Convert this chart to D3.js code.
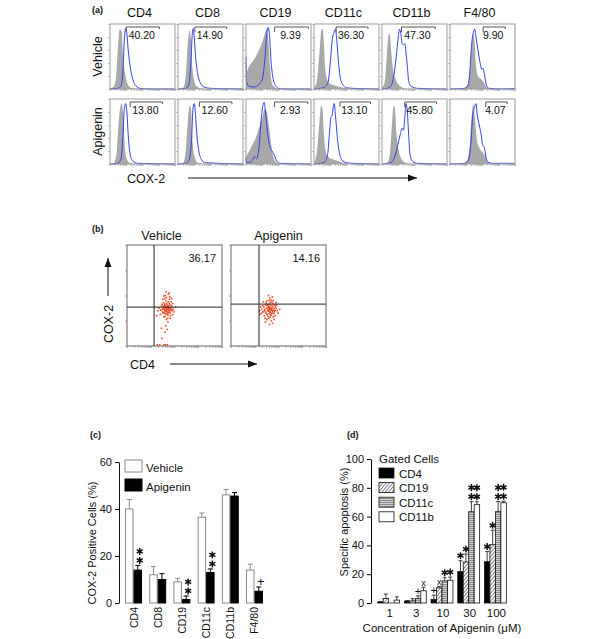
<!DOCTYPE html>
<html>
<head>
<meta charset="utf-8">
<script src="https://cdn.jsdelivr.net/npm/d3@7"></script>
<style>
body { margin: 0; background: #fff; }
svg text { font-family: "Liberation Sans", Arial, sans-serif; fill: #111; }
</style>
</head>
<body>
<svg id="fig" width="600" height="639"></svg>
<script>
// ---- panel (a): COX-2 histograms, x/y as fraction of the plot box ----
const markers = ["CD4", "CD8", "CD19", "CD11c", "CD11b", "F4/80"];
const treatments = ["Vehicle", "Apigenin"];

const gatePercent = [
    [40.20, 14.90, 9.39, 36.30, 47.30, 9.90],
    [13.80, 12.60, 2.93, 13.10, 45.80, 4.07]
];
const gateRange = [
    [[0.25, 0.76], [0.26, 0.75], [0.44, 0.96], [0.34, 0.83], [0.30, 0.82], [0.51, 0.85]],
    [[0.31, 0.81], [0.33, 0.83], [0.44, 0.95], [0.40, 0.87], [0.35, 0.84], [0.55, 0.88]]
];

const isoVehicle = [
    [[0,0.01],[0.05,0.03],[0.09,0.15],[0.12,0.6],[0.15,0.92],[0.18,0.88],[0.2,0.5],[0.23,0.25],[0.27,0.08],[0.32,0.02],[0.45,0],[1,0]],
    [[0,0],[0.08,0.02],[0.12,0.2],[0.15,0.7],[0.18,0.9],[0.2,0.75],[0.22,0.35],[0.26,0.1],[0.3,0.03],[0.4,0],[1,0]],
    [[0,0.22],[0.05,0.35],[0.1,0.42],[0.15,0.5],[0.2,0.6],[0.25,0.72],[0.29,0.85],[0.32,0.93],[0.34,0.8],[0.37,0.35],[0.4,0.08],[0.45,0.02],[0.5,0],[1,0]],
    [[0,0.02],[0.04,0.1],[0.08,0.5],[0.11,0.88],[0.13,0.93],[0.15,0.75],[0.17,0.35],[0.2,0.15],[0.25,0.08],[0.33,0.05],[0.4,0.03],[0.5,0.01],[0.6,0],[1,0]],
    [[0,0.02],[0.04,0.1],[0.07,0.45],[0.1,0.82],[0.12,0.85],[0.14,0.6],[0.17,0.3],[0.21,0.15],[0.26,0.06],[0.32,0.02],[0.4,0],[1,0]],
    [[0,0],[0.2,0.01],[0.26,0.05],[0.3,0.2],[0.33,0.6],[0.355,0.85],[0.38,0.7],[0.4,0.35],[0.43,0.2],[0.48,0.15],[0.52,0.1],[0.56,0.03],[0.62,0],[1,0]]
];
const coxVehicle = [
    [[0,0],[0.12,0.01],[0.17,0.05],[0.2,0.3],[0.22,0.75],[0.24,0.93],[0.26,0.85],[0.28,0.6],[0.31,0.35],[0.35,0.15],[0.4,0.05],[0.46,0.01],[0.6,0],[1,0]],
    [[0,0],[0.12,0.01],[0.17,0.08],[0.2,0.45],[0.22,0.85],[0.235,0.93],[0.25,0.8],[0.27,0.5],[0.3,0.25],[0.34,0.1],[0.4,0.03],[0.5,0.01],[1,0]],
    [[0,0.5],[0.01,0.1],[0.05,0.04],[0.12,0.03],[0.2,0.07],[0.25,0.15],[0.29,0.45],[0.32,0.85],[0.34,0.95],[0.36,0.85],[0.38,0.5],[0.41,0.2],[0.45,0.06],[0.5,0.01],[0.6,0],[1,0]],
    [[0,0],[0.1,0.01],[0.18,0.04],[0.22,0.12],[0.25,0.4],[0.28,0.75],[0.31,0.88],[0.33,0.92],[0.35,0.75],[0.37,0.5],[0.4,0.2],[0.44,0.07],[0.5,0.02],[0.6,0.01],[1,0]],
    [[0,0],[0.08,0.01],[0.14,0.05],[0.18,0.2],[0.22,0.5],[0.25,0.8],[0.27,0.92],[0.29,0.85],[0.31,0.7],[0.33,0.68],[0.35,0.7],[0.37,0.55],[0.39,0.35],[0.41,0.12],[0.45,0.04],[0.55,0.01],[1,0]],
    [[0,0],[0.22,0.01],[0.27,0.04],[0.3,0.2],[0.33,0.65],[0.36,0.88],[0.38,0.92],[0.4,0.8],[0.43,0.6],[0.46,0.42],[0.49,0.3],[0.51,0.32],[0.53,0.22],[0.56,0.06],[0.6,0.01],[0.8,0],[1,0.01]]
];
const isoApigenin = [
    [[0,0],[0.06,0.02],[0.1,0.15],[0.13,0.6],[0.16,0.88],[0.18,0.93],[0.2,0.8],[0.22,0.4],[0.25,0.1],[0.3,0.02],[0.4,0],[1,0]],
    [[0,0],[0.08,0.02],[0.12,0.2],[0.15,0.65],[0.18,0.9],[0.2,0.85],[0.22,0.4],[0.26,0.1],[0.3,0.02],[0.4,0],[1,0]],
    [[0,0.12],[0.05,0.2],[0.1,0.3],[0.15,0.4],[0.2,0.55],[0.25,0.72],[0.29,0.85],[0.32,0.8],[0.35,0.6],[0.38,0.35],[0.41,0.15],[0.45,0.04],[0.5,0.01],[0.6,0],[1,0]],
    [[0,0.02],[0.04,0.15],[0.08,0.6],[0.11,0.9],[0.13,0.85],[0.15,0.5],[0.17,0.25],[0.21,0.12],[0.27,0.08],[0.35,0.05],[0.45,0.02],[0.55,0],[1,0]],
    [[0,0],[0.08,0.02],[0.12,0.15],[0.15,0.55],[0.18,0.9],[0.2,0.85],[0.22,0.5],[0.25,0.25],[0.29,0.1],[0.34,0.03],[0.42,0],[1,0]],
    [[0,0],[0.2,0.01],[0.26,0.05],[0.3,0.25],[0.33,0.7],[0.36,0.92],[0.38,0.75],[0.41,0.4],[0.45,0.25],[0.5,0.18],[0.54,0.12],[0.57,0.04],[0.62,0],[1,0]]
];
const coxApigenin = [
    [[0,0],[0.12,0.01],[0.17,0.08],[0.2,0.45],[0.22,0.85],[0.24,0.93],[0.26,0.8],[0.28,0.45],[0.31,0.15],[0.35,0.05],[0.42,0.01],[1,0]],
    [[0,0],[0.12,0.01],[0.17,0.06],[0.21,0.4],[0.23,0.85],[0.25,0.93],[0.27,0.75],[0.29,0.45],[0.32,0.2],[0.36,0.07],[0.42,0.02],[1,0]],
    [[0,0.1],[0.01,0.02],[0.06,0.03],[0.1,0.06],[0.13,0.12],[0.16,0.08],[0.2,0.25],[0.23,0.65],[0.26,0.9],[0.28,0.95],[0.3,0.8],[0.33,0.5],[0.36,0.3],[0.4,0.2],[0.43,0.15],[0.47,0.05],[0.52,0.01],[1,0]],
    [[0,0],[0.1,0.01],[0.17,0.04],[0.21,0.15],[0.24,0.5],[0.26,0.72],[0.28,0.75],[0.3,0.9],[0.31,0.93],[0.33,0.75],[0.36,0.4],[0.39,0.18],[0.43,0.06],[0.5,0.02],[0.6,0.01],[1,0]],
    [[0,0],[0.1,0.01],[0.16,0.04],[0.2,0.12],[0.24,0.28],[0.28,0.45],[0.31,0.55],[0.33,0.52],[0.35,0.7],[0.37,0.93],[0.39,0.8],[0.41,0.45],[0.43,0.15],[0.47,0.04],[0.55,0.01],[1,0]],
    [[0,0],[0.22,0.01],[0.28,0.05],[0.32,0.3],[0.35,0.75],[0.38,0.88],[0.4,0.93],[0.42,0.75],[0.45,0.6],[0.48,0.45],[0.5,0.3],[0.53,0.25],[0.55,0.12],[0.58,0.03],[0.65,0.01],[1,0.01]]
];

// ---- panel (b): CD4 vs COX-2 dot plots, log10 units ----
const quadrantGate = [[1.14, 1.54], [1.18, 1.66]];
const quadrantPercent = [36.17, 14.16];
const dotsVehicle = [
    [1.68,1.43],[1.72,1.50],[1.60,1.38],[1.75,1.32],[1.65,1.55],[1.58,1.47],[1.80,1.45],[1.70,1.62],[1.62,1.28],[1.77,1.58],
    [1.55,1.52],[1.85,1.40],[1.67,1.70],[1.73,1.22],[1.50,1.35],[1.90,1.52],[1.63,1.80],[1.78,1.68],[1.57,1.60],[1.69,1.35],
    [1.82,1.30],[1.48,1.45],[1.74,1.75],[1.60,1.18],[1.88,1.60],[1.66,1.92],[1.53,1.72],[1.79,1.85],[1.71,1.10],[1.95,1.45],
    [1.45,1.58],[1.64,1.48],[1.76,1.40],[1.59,1.66],[1.83,1.50],[1.70,1.25],[1.52,1.30],[1.86,1.75],[1.67,1.38],[1.61,2.00],
    [1.74,2.05],[1.58,1.88],[1.80,1.95],[1.42,1.42],[1.98,1.35],[1.66,1.05],[1.55,1.15],[1.72,0.95],[1.63,0.80],[1.50,1.85],
    [1.35,1.50],[1.40,1.25],[1.92,1.68],[1.84,1.20],[1.69,1.55],[1.57,1.42],[1.75,1.47],[1.81,1.62],[1.64,1.62],[1.78,1.35],
    [1.62,1.52],[1.70,1.45],[1.54,1.58],[1.86,1.45],[1.73,1.58],[1.60,1.42],[1.68,1.30],[1.76,1.52],[1.58,1.32],[1.90,1.40],
    [1.65,2.15],[1.78,2.10],[1.55,1.98],[1.48,1.65],[1.30,1.40],[1.25,1.20],[1.45,0.70],[1.60,0.55],[1.70,0.65],[2.05,1.55],
    [1.38,0.05],[1.55,0.05],[1.62,0.05],[1.70,0.05],[1.28,0.05],[1.47,0.30],[1.82,1.10],[1.93,1.25],[1.88,1.88],[1.52,1.50]
];
const dotsApigenin = [
    [1.64,1.43],[1.70,1.48],[1.58,1.38],[1.75,1.35],[1.62,1.55],[1.55,1.45],[1.80,1.42],[1.68,1.60],[1.60,1.28],[1.73,1.52],
    [1.50,1.50],[1.85,1.40],[1.66,1.72],[1.70,1.22],[1.45,1.35],[1.90,1.48],[1.60,1.80],[1.76,1.68],[1.53,1.60],[1.65,1.33],
    [1.80,1.28],[1.42,1.45],[1.72,1.75],[1.56,1.18],[1.88,1.55],[1.63,1.90],[1.48,1.70],[1.58,1.10],[1.95,1.40],[1.38,1.55],
    [1.61,1.48],[1.74,1.40],[1.55,1.62],[1.82,1.50],[1.67,1.25],[1.48,1.30],[1.84,1.62],[1.64,1.36],[1.70,1.00],[1.52,1.05],
    [1.40,1.20],[1.78,1.15],[1.20,1.40],[1.22,1.25],[1.25,1.55],[1.30,1.45],[1.35,1.35],[1.33,1.60],[1.28,1.30],[1.98,1.30],
    [2.05,1.45],[1.92,1.62],[1.62,0.85],[1.45,0.95],[1.75,0.90],[1.57,1.52],[1.69,1.42],[1.77,1.58],[1.59,1.56],[1.66,1.50],
    [1.72,1.30],[1.54,1.40],[1.83,1.35],[1.60,1.65],[1.68,1.82],[1.50,1.78],[1.78,1.80],[1.86,1.20],[1.43,1.10],[1.65,1.15],
    [1.36,1.75],[1.58,2.00],[1.74,1.95],[1.90,1.72],[1.46,1.62],[1.62,1.40],[1.72,1.45],[1.52,1.25],[1.82,1.05],[1.40,1.40]
];

// ---- panel (c): % COX-2 positive cells ----
const vehicleMean = [40, 12, 9, 36.5, 46, 14];
const vehicleSem = [4, 3.5, 1.5, 1.8, 2.3, 2.5];
const apigeninMean = [14, 10, 1.5, 13, 45.5, 5];
const apigeninSem = [2, 2.5, 1.5, 1.5, 1.5, 1.8];
const apigeninSig = ["**", "", "**", "**", "", "+"];

// ---- panel (d): specific apoptosis ----
const doses = ["1", "3", "10", "30", "100"];
const gatedCells = ["CD4", "CD19", "CD11c", "CD11b"];
const apoCD4 = [0.7, 1.2, 2.5, 21.8, 28.7];
const apoCD4Err = [0.3, 0.5, 3, 7.6, 7];
const apoCD19 = [3.2, 1.5, 10.5, 28.5, 40.5];
const apoCD19Err = [3, 1.5, 1, 5.5, 10];
const apoCD11c = [0, 3, 15.3, 63.4, 63.4];
const apoCD11cErr = [0, 2, 2.3, 7, 7];
const apoCD11b = [2, 8.5, 15.8, 68.3, 69.6];
const apoCD11bErr = [2.3, 2.5, 2.2, 2, 1];
const apoSig = [
    ["", "", "", ""],
    ["", "", "+", "x"],
    ["+", "x", "*", "*"],
    ["*", "*", "**", "**"],
    ["*", "*", "**", "**"]
];

const star = d3.symbol().type(d3.symbolAsterisk).size(34);

function panelLabel(svg, txt, x, y) {
    svg.append("text").attr("x", x).attr("y", y).
    attr("font-size", 9).attr("font-weight", "bold").text(txt);
}

function arrow(svg, x1, y1, x2, y2) {
    svg.append("line").attr("x1", x1).attr("y1", y1).attr("x2", x2).attr("y2", y2).
    attr("stroke", "#111").attr("stroke-width", 1);
    const a = Math.atan2(y2 - y1, x2 - x1), L = 9, W = 3.5;
    const p = [[x2, y2],
    [x2 - L * Math.cos(a) - W * Math.sin(a), y2 - L * Math.sin(a) + W * Math.cos(a)],
    [x2 - L * Math.cos(a) + W * Math.sin(a), y2 - L * Math.sin(a) - W * Math.cos(a)]];
    svg.append("path").attr("d", "M" + p.join("L") + "Z").attr("fill", "#111");
}

function annotate(g, sig, x, top, big) {
    if (sig === "*" || sig === "**") {
        g.append("path").attr("d", star).attr("transform", `translate(${x},${top - 5})`).
        attr("stroke", "#111").attr("stroke-width", 1.5);
        if (sig === "**")
            g.append("path").attr("d", star).attr("transform", `translate(${x},${top - 14})`).
            attr("stroke", "#111").attr("stroke-width", 1.5);
    } else if (sig) {
        g.append("text").attr("x", x).attr("y", top - 1).attr("text-anchor", "middle").
        attr("font-size", sig === "+" ? big : 9).text(sig);
    }
}

function drawHistograms(svg) {
    panelLabel(svg, "(a)", 92, 13);
    const col = d3.scaleBand().domain(markers).range([110, 515]).paddingInner(0.044);
    const row = d3.scaleBand().domain(treatments).range([24, 164]).paddingInner(0.1333);
    const iso = [isoVehicle, isoApigenin], cox = [coxVehicle, coxApigenin];

    markers.forEach(m => {
        svg.append("text").attr("x", col(m) + col.bandwidth() / 2 - 3).attr("y", 17).
        attr("text-anchor", "middle").attr("font-size", 12.5).text(m);
    });
    treatments.forEach(t => {
        svg.append("text").attr("transform", `translate(102,${row(t) + row.bandwidth() / 2}) rotate(-90)`).
        attr("text-anchor", "middle").attr("font-size", 12.5).text(t);
    });

    treatments.forEach((t, ri) => markers.forEach((m, ci) => {
        const x0 = col(m), y0 = row(t), w = col.bandwidth(), h = row.bandwidth();
        const x = d3.scaleLinear([0, 1], [x0, x0 + w]);
        const y = d3.scaleLinear([0, 1], [y0 + h, y0]);
        const g = svg.append("g");

        g.append("path").datum(iso[ri][ci]).
        attr("d", d3.area().x(d => x(d[0])).y0(y0 + h).y1(d => y(d[1])).curve(d3.curveMonotoneX)).
        attr("fill", "#a8a8a8");
        g.append("path").datum(cox[ri][ci]).
        attr("d", d3.line().x(d => x(d[0])).y(d => y(d[1])).curve(d3.curveMonotoneX)).
        attr("fill", "none").attr("stroke", "#3142e8").attr("stroke-width", 1);

        g.append("rect").attr("x", x0).attr("y", y0).attr("width", w).attr("height", h).
        attr("fill", "none").attr("stroke", "#9a9a9a");

        const lx = d3.scaleLog([1, 1e4], [x0, x0 + w]);
        const bx = g.append("g").attr("transform", `translate(0,${y0 + h})`).
        call(d3.axisBottom(lx).tickSize(2).tickFormat(""));
        const ly = d3.scaleLinear([0, 1], [y0 + h, y0]);
        const by = g.append("g").attr("transform", `translate(${x0},0)`).
        call(d3.axisLeft(ly).ticks(5).tickSize(2).tickFormat(""));
        [bx, by].forEach(a => {
            a.select(".domain").remove();
            a.selectAll("line").attr("stroke", "#999").attr("stroke-width", 0.6);
        });

        const gr = gateRange[ri][ci];
        g.append("path").
        attr("d", `M${x(gr[0])},${y0 + 8}V${y0 + 3}H${x(gr[1])}V${y0 + 5}`).
        attr("fill", "none").attr("stroke", "#555").attr("stroke-width", 1);
        g.append("text").attr("x", (x(gr[0]) + x(gr[1])) / 2 - 1).attr("y", y0 + 15).
        attr("text-anchor", "middle").attr("font-size", 10.5).attr("fill", "#333").
        text(gatePercent[ri][ci].toFixed(2));
    }));

    svg.append("text").attr("x", 127).attr("y", 183).attr("font-size", 12.5).text("COX-2");
    arrow(svg, 188, 178, 417, 178);
}

function drawDotPlots(svg) {
    panelLabel(svg, "(b)", 92, 232);
    const col = d3.scaleBand().domain(treatments).range([127, 326]).paddingInner(0.0865);
    const dots = [dotsVehicle, dotsApigenin];
    const titleShift = [-13, 0];

    treatments.forEach((t, i) => {
        const x0 = col(t), w = col.bandwidth(), y0 = 245, h = 101;
        const x = d3.scaleLinear([0, 4], [x0, x0 + w]);
        const y = d3.scaleLinear([0, 4], [y0 + h, y0]);
        const g = svg.append("g");

        g.append("text").attr("x", x0 + w / 2 + titleShift[i]).attr("y", 243 - 3).
        attr("text-anchor", "middle").attr("font-size", 12.5).text(t);

        g.selectAll("rect.dot").data(dots[i]).enter().append("rect").
        attr("class", "dot").
        attr("x", d => x(d[0]) - 0.8).attr("y", d => y(d[1]) - 0.8).
        attr("width", 1.6).attr("height", 1.6).attr("fill", "#ee4a25");

        g.append("rect").attr("x", x0).attr("y", y0).attr("width", w).attr("height", h).
        attr("fill", "none").attr("stroke", "#666");
        const q = quadrantGate[i];
        g.append("line").attr("x1", x(q[0])).attr("x2", x(q[0])).attr("y1", y0).attr("y2", y0 + h).
        attr("stroke", "#222");
        g.append("line").attr("x1", x0).attr("x2", x0 + w).attr("y1", y(q[1])).attr("y2", y(q[1])).
        attr("stroke", "#222");
        g.append("text").attr("x", x0 + w - 6).attr("y", y0 + 17).attr("text-anchor", "end").
        attr("font-size", 11).text(quadrantPercent[i].toFixed(2));

        const lx = d3.scaleLog([1, 1e4], [x0, x0 + w]);
        const ly = d3.scaleLog([1, 1e4], [y0 + h, y0]);
        const bx = g.append("g").attr("transform", `translate(0,${y0 + h})`).
        call(d3.axisBottom(lx).tickSize(2).tickFormat(""));
        const by = g.append("g").attr("transform", `translate(${x0},0)`).
        call(d3.axisLeft(ly).ticks(4).tickSize(2).tickFormat(""));
        [bx, by].forEach(a => {
            a.select(".domain").remove();
            a.selectAll("line").attr("stroke", "#777").attr("stroke-width", 0.6);
        });
    });

    svg.append("text").attr("transform", "translate(113,324) rotate(-90)").
    attr("text-anchor", "middle").attr("font-size", 12.5).text("COX-2");
    arrow(svg, 108, 296, 108, 258);
    svg.append("text").attr("x", 130).attr("y", 369).attr("font-size", 12.5).text("CD4");
    arrow(svg, 170, 364, 257, 364);
}

function drawCoxBars(svg) {
    panelLabel(svg, "(c)", 90, 438);
    const x = d3.scaleBand().domain(markers).range([119, 269]).paddingInner(0.3).paddingOuter(0.25);
    const y = d3.scaleLinear().domain([0, 60]).range([603, 462]);
    const bw = x.bandwidth() / 2;

    const ax = svg.append("g").attr("transform", "translate(119,0)").
    call(d3.axisLeft(y).tickValues([0, 20, 40, 60]).tickSize(4).tickSizeOuter(0));
    ax.selectAll("text").attr("font-size", 11).attr("font-family", "Liberation Sans, Arial");
    ax.select(".domain").attr("stroke", "#111");

    svg.append("text").attr("transform", "translate(96,543) rotate(-90)").
    attr("text-anchor", "middle").attr("font-size", 11).text("COX-2 Positive Cells  (%)");

    const series = [
        { mean: vehicleMean, sem: vehicleSem, fill: "#fff", stroke: "#8a8a8a", off: 0 },
        { mean: apigeninMean, sem: apigeninSem, fill: "#000", stroke: "#000", off: bw }
    ];
    series.forEach(s => {
        const g = svg.append("g");
        g.selectAll("line.err").data(markers).enter().append("path").
        attr("d", (m, i) => {
            const cx = x(m) + s.off + bw / 2, t = y(s.mean[i] + s.sem[i]);
            return `M${cx},${y(s.mean[i])}V${t}M${cx - 2.5},${t}H${cx + 2.5}`;
        }).
        attr("stroke", s.stroke).attr("fill", "none");
        g.selectAll("rect").data(markers).enter().append("rect").
        attr("x", m => x(m) + s.off + 0.5).
        attr("y", (m, i) => y(s.mean[i])).
        attr("width", bw - 1).
        attr("height", (m, i) => y(0) - y(s.mean[i])).
        attr("fill", s.fill).attr("stroke", s.stroke);
    });

    markers.forEach((m, i) => {
        annotate(svg, apigeninSig[i], x(m) + bw * 1.5 + 2, y(apigeninMean[i] + apigeninSem[i]), 13);
        svg.append("text").attr("transform", `translate(${x(m) + bw + 4},607) rotate(-90)`).
        attr("text-anchor", "end").attr("font-size", 10.5).text(m);
    });

    const lg = svg.append("g");
    [["Vehicle", "#fff", "#8a8a8a"], ["Apigenin", "#000", "#000"]].forEach((d, i) => {
        lg.append("rect").attr("x", 125).attr("y", 460 + i * 19).attr("width", 17).attr("height", 12).
        attr("fill", d[1]).attr("stroke", d[2]);
        lg.append("text").attr("x", 146).attr("y", 472 + i * 19).attr("font-size", 11.5).text(d[0]);
    });
}

function drawApoptosis(svg) {
    panelLabel(svg, "(d)", 347, 438);
    const defs = svg.append("defs");
    defs.append("pattern").attr("id", "hatch").attr("patternUnits", "userSpaceOnUse").
    attr("width", 2.6).attr("height", 2.6).attr("patternTransform", "rotate(40)").
    call(p => {
        p.append("rect").attr("width", 2.6).attr("height", 2.6).attr("fill", "#fff");
        p.append("line").attr("x1", 0.5).attr("y1", 0).attr("x2", 0.5).attr("y2", 2.6).
        attr("stroke", "#777").attr("stroke-width", 0.9);
    });
    defs.append("pattern").attr("id", "stripe").attr("patternUnits", "userSpaceOnUse").
    attr("width", 4).attr("height", 2).
    call(p => {
        p.append("rect").attr("width", 4).attr("height", 2).attr("fill", "#cfcfcf");
        p.append("line").attr("x1", 0).attr("y1", 0.5).attr("x2", 4).attr("y2", 0.5).
        attr("stroke", "#8c8c8c").attr("stroke-width", 1);
    });
    const fills = ["#000", "url(#hatch)", "url(#stripe)", "#fff"];
    const means = [apoCD4, apoCD19, apoCD11c, apoCD11b];
    const errs = [apoCD4Err, apoCD19Err, apoCD11cErr, apoCD11bErr];

    const x = d3.scaleBand().domain(doses).range([371, 513]).paddingInner(0.18).paddingOuter(0.25);
    const xs = d3.scaleBand().domain(gatedCells).range([0, x.bandwidth()]);
    const y = d3.scaleLinear().domain([0, 100]).range([603, 459]);

    const ax = svg.append("g").attr("transform", "translate(371,0)").
    call(d3.axisLeft(y).tickValues([0, 20, 40, 60, 80, 100]).tickSize(4).tickSizeOuter(0));
    ax.selectAll("text").attr("font-size", 11).attr("font-family", "Liberation Sans, Arial");

    svg.append("text").attr("transform", "translate(348,522) rotate(-90)").
    attr("text-anchor", "middle").attr("font-size", 11).text("Specific apoptosis (%)");

    gatedCells.forEach((c, k) => {
        const g = svg.append("g");
        g.selectAll("path").data(doses).enter().append("path").
        attr("d", (d, i) => {
            const cx = x(d) + xs(c) + xs.bandwidth() / 2, t = y(means[k][i] + errs[k][i]);
            return `M${cx},${y(means[k][i])}V${t}M${cx - 2},${t}H${cx + 2}`;
        }).
        attr("stroke", "#111").attr("stroke-width", 0.8).attr("fill", "none");
        g.selectAll("rect").data(doses).enter().append("rect").
        attr("x", d => x(d) + xs(c)).
        attr("y", (d, i) => y(means[k][i])).
        attr("width", xs.bandwidth()).
        attr("height", (d, i) => y(0) - y(means[k][i])).
        attr("fill", fills[k]).attr("stroke", "#111").attr("stroke-width", 0.8);
    });

    doses.forEach((d, i) => {
        gatedCells.forEach((c, k) => {
            annotate(svg, apoSig[i][k], x(d) + xs(c) + xs.bandwidth() / 2, y(means[k][i] + errs[k][i]), 11);
        });
        svg.append("text").attr("x", x(d) + x.bandwidth() / 2 + 1).attr("y", 617).
        attr("text-anchor", "middle").attr("font-size", 11.5).text(d);
    });

    svg.append("text").attr("x", 442).attr("y", 632).attr("text-anchor", "middle").
    attr("font-size", 11.5).text("Concentration of Apigenin (\u03bcM)");

    const lg = svg.append("g");
    lg.append("text").attr("x", 379).attr("y", 463).attr("font-size", 11.5).text("Gated Cells");
    gatedCells.forEach((c, k) => {
        lg.append("rect").attr("x", 379).attr("y", 468 + k * 14.6).attr("width", 15).attr("height", 10).
        attr("fill", fills[k]).attr("stroke", "#111").attr("stroke-width", 0.8);
        lg.append("text").attr("x", 399).attr("y", 477.5 + k * 14.6).attr("font-size", 11.5).text(c);
    });
}

document.addEventListener('DOMContentLoaded', () =>
{
    const svg = d3.select("#fig");
    drawHistograms(svg);
    drawDotPlots(svg);
    drawCoxBars(svg);
    drawApoptosis(svg);
});
</script>
</body>
</html>
